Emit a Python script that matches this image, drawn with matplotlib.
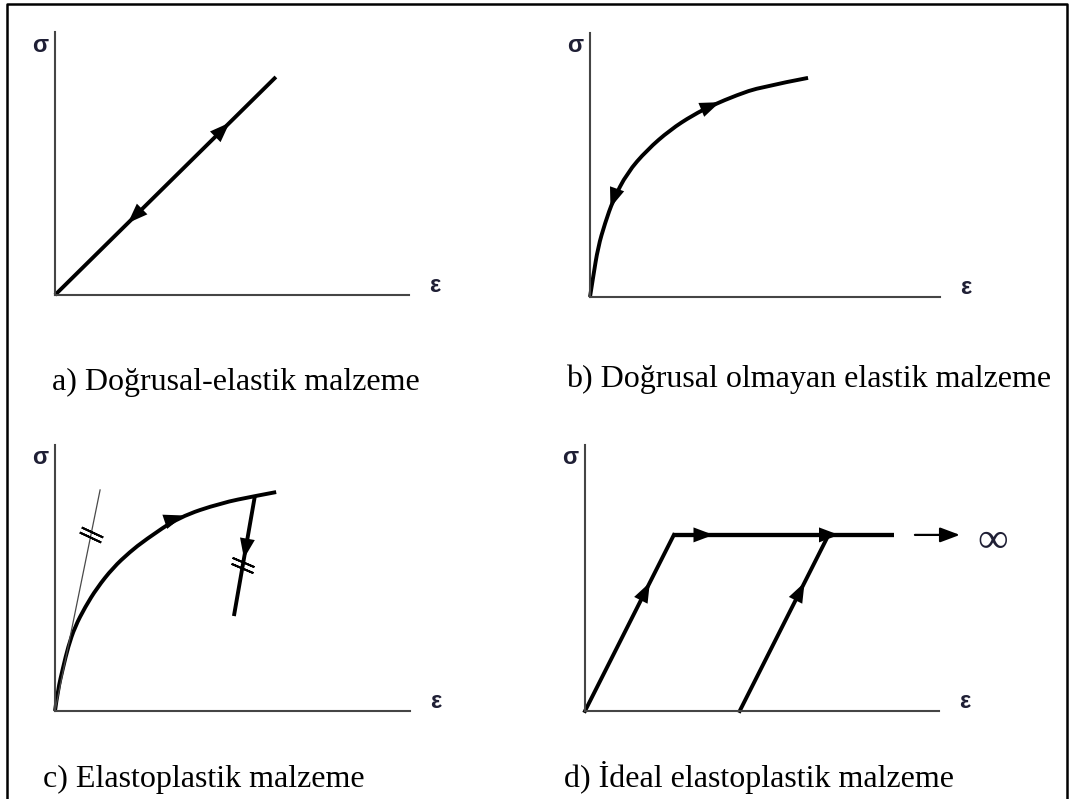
import numpy as np
import matplotlib.pyplot as plt
from matplotlib.lines import Line2D
from matplotlib.path import Path
from matplotlib.patches import PathPatch

W, H = 1072, 799

# (a) linear elastic: loading and unloading on the same straight line
lin_strain = [0.0, 0.624]
lin_stress = [0.0, 0.829]

# (b) nonlinear elastic curve
nl_strain = [0.0, 0.009, 0.023, 0.043, 0.066, 0.106, 0.163, 0.229, 0.294, 0.351, 0.420, 0.486, 0.623]
nl_stress = [0.0, 0.076, 0.189, 0.280, 0.367, 0.470, 0.557, 0.633, 0.689, 0.727, 0.765, 0.795, 0.830]

# (c) elastoplastic hardening curve, initial tangent and unloading branch
ep_strain = [0.0, 0.008, 0.023, 0.037, 0.056, 0.085, 0.118, 0.163, 0.211, 0.254, 0.349, 0.468, 0.563, 0.623]
ep_stress = [0.0, 0.079, 0.165, 0.241, 0.316, 0.391, 0.462, 0.538, 0.598, 0.643, 0.729, 0.782, 0.808, 0.823]
tangent_strain = [0.0, 0.127]
tangent_stress = [0.0, 0.831]
unload_strain = [0.563, 0.504]
unload_stress = [0.808, 0.357]

# (d) ideal elastoplastic
yield_strain = 0.251
yield_stress = 0.662
plateau_end = 0.873
residual_strain = 0.437

captions = [
    "a) Doğrusal-elastik malzeme",
    "b) Doğrusal olmayan elastik malzeme",
    "c) Elastoplastik malzeme",
    "d) İdeal elastoplastik malzeme",
]

# pixel boxes of each plot: origin x, origin y, x-axis end, y-axis top
boxes = [(55, 295, 409, 32), (590, 297, 940, 33), (55, 711, 410, 445), (585, 711, 939, 445)]
caption_pos = [(52, 390), (566, 387), (43, 787), (564, 787)]

fig = plt.figure(figsize=(W / 100, H / 100), dpi=100)

serif = ["Liberation Serif", "DejaVu Serif"]
sans = ["Liberation Sans", "DejaVu Sans"]
THICK = 2.8
HEAD = "-|>,head_length=0.8,head_width=0.3"
HEAD_SCALE = 18


def panel(x0, y0, x1, y1):
    ax = fig.add_axes([x0 / W, 1 - y0 / H, (x1 - x0) / W, (y0 - y1) / H])
    ax.set_xlim(0, 1)
    ax.set_ylim(0, 1)
    ax.set_xticks([])
    ax.set_yticks([])
    for s in ("top", "right"):
        ax.spines[s].set_visible(False)
    for s in ("left", "bottom"):
        ax.spines[s].set_linewidth(1.5)
        ax.spines[s].set_color("#454545")
    ax.patch.set_visible(False)
    ax.annotate("σ", xy=(0, 1), xycoords="axes fraction", xytext=(-15, -13),
                textcoords="offset pixels", ha="center", va="center",
                fontsize=17, fontweight="bold", family=sans, color="#1f1f35")
    ax.annotate("ε", xy=(1, 0), xycoords="axes fraction", xytext=(26, 9),
                textcoords="offset pixels", ha="center", va="center",
                fontsize=17, fontweight="bold", family=sans, color="#1f1f35")
    return ax


def smooth_curve(ax, xs, ys, lw=THICK):
    # quadratic bezier chain: inner points act as control points
    pts = np.column_stack([xs, ys])
    verts = [pts[0]]
    codes = [Path.MOVETO]
    for i in range(1, len(pts) - 1):
        end = pts[-1] if i == len(pts) - 2 else (pts[i] + pts[i + 1]) / 2
        verts += [pts[i], end]
        codes += [Path.CURVE3, Path.CURVE3]
    ax.add_patch(PathPatch(Path(verts, codes), fill=False, edgecolor="black",
                           lw=lw, clip_on=False, capstyle="butt"))


def along(ax, xs, ys, frac):
    pts = ax.transData.transform(np.column_stack([xs, ys]))
    seg = np.hypot(*np.diff(pts, axis=0).T)
    cum = np.concatenate([[0], np.cumsum(seg)])
    s = frac * cum[-1]
    i = min(max(np.searchsorted(cum, s, side="right") - 1, 0), len(seg) - 1)
    t = (s - cum[i]) / seg[i]
    p = pts[i] + t * (pts[i + 1] - pts[i])
    d = (pts[i + 1] - pts[i]) / seg[i]
    return p, d


def arrowhead(ax, xs, ys, frac, reverse=False):
    # filled head only; the shaft is the curve itself
    p, d = along(ax, xs, ys, frac)
    if reverse:
        d = -d
    inv = ax.transData.inverted()
    ax.annotate("", xy=inv.transform(p), xytext=inv.transform(p - 28 * d),
                arrowprops=dict(arrowstyle=HEAD, color="black", lw=0,
                                shrinkA=0, shrinkB=0, mutation_scale=HEAD_SCALE))


def hashmarks(ax, xs, ys, fracs, angle):
    inv = ax.transData.inverted()
    for f in fracs:
        p, _ = along(ax, xs, ys, f)
        x, y = inv.transform(p)
        ax.plot([x], [y], marker=(2, 2, angle), ms=17, mew=1.4, color="black",
                clip_on=False)


axes = [panel(*b) for b in boxes]
ax_a, ax_b, ax_c, ax_d = axes

# (a)
ax_a.plot(lin_strain, lin_stress, color="black", lw=THICK, clip_on=False,
          solid_capstyle="butt")
arrowhead(ax_a, lin_strain, lin_stress, 0.79)
arrowhead(ax_a, lin_strain, lin_stress, 0.33, reverse=True)

# (b)
smooth_curve(ax_b, nl_strain, nl_stress)
arrowhead(ax_b, nl_strain, nl_stress, 0.73)
arrowhead(ax_b, nl_strain, nl_stress, 0.27, reverse=True)

# (c)
ax_c.plot(tangent_strain, tangent_stress, color="#4a4a4a", lw=0.9, clip_on=False)
smooth_curve(ax_c, ep_strain, ep_stress)
ax_c.plot(unload_strain, unload_stress, color="black", lw=THICK, clip_on=False,
          solid_capstyle="butt")
arrowhead(ax_c, ep_strain, ep_stress, 0.72)
arrowhead(ax_c, unload_strain, unload_stress, 0.52)
hashmarks(ax_c, tangent_strain, tangent_stress, [0.787, 0.81], 65)
hashmarks(ax_c, unload_strain, unload_stress, [0.55, 0.60], 67)

# (d)
load_x = [0.0, yield_strain, plateau_end]
load_y = [0.0, yield_stress, yield_stress]
reload_x = [residual_strain, residual_strain + yield_strain]
reload_y = [0.0, yield_stress]
ax_d.plot(load_x[:2], load_y[:2], color="black", lw=THICK, clip_on=False)
ax_d.plot(load_x[1:], load_y[1:], color="black", lw=3.1, clip_on=False,
          solid_capstyle="butt")
ax_d.plot(reload_x, reload_y, color="black", lw=THICK, clip_on=False)
arrowhead(ax_d, load_x[:2], load_y[:2], 0.73)
arrowhead(ax_d, reload_x, reload_y, 0.73)
arrowhead(ax_d, load_x[1:], load_y[1:], 0.18)
arrowhead(ax_d, load_x[1:], load_y[1:], 0.75)
ax_d.annotate("", xy=(1.059, yield_stress), xytext=(0.932, yield_stress),
              annotation_clip=False,
              arrowprops=dict(arrowstyle=HEAD, color="black", lw=1.6,
                              shrinkA=0, shrinkB=0, mutation_scale=15))
ax_d.text(1.153, yield_stress - 0.025, "∞", ha="center", va="center",
          fontsize=31, family=serif, color="#1f1f35", clip_on=False)

for (cx, cy), text in zip(caption_pos, captions):
    fig.text(cx / W, 1 - cy / H, text, ha="left", va="baseline",
             fontsize=23, family=serif, color="black")

# open frame around the figure (bottom edge runs off the page)
fig.add_artist(Line2D([6.5 / W, 6.5 / W, 1066.5 / W, 1066.5 / W],
                      [-0.01, 1 - 4 / H, 1 - 4 / H, -0.01],
                      transform=fig.transFigure, color="black", lw=1.8))

fig.savefig("out.png", dpi=100)
